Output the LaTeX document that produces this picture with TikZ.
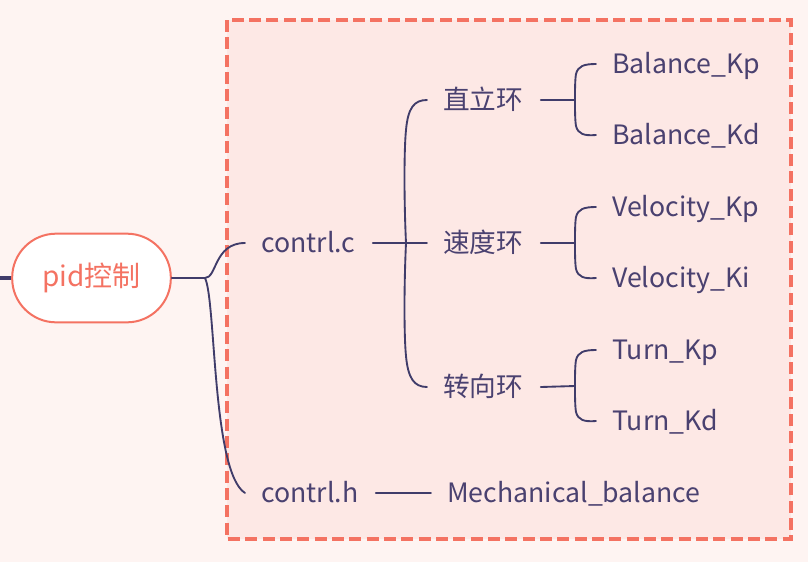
\documentclass[tikz,border=0pt]{standalone}
\usepackage{fontspec}
\setmainfont{Noto Sans CJK SC}
\definecolor{bgout}{HTML}{FEF4F2}
\definecolor{bgin}{HTML}{FDE8E5}
\definecolor{salmon}{HTML}{F47262}
\definecolor{navy}{HTML}{403C6A}
\definecolor{txt}{HTML}{4A4170}
\tikzset{
  conn/.style={draw=navy, line width=1.4pt, line cap=round},
  leaf/.style={anchor=west, inner sep=0pt, text height=18pt, text depth=3.8pt,
    text=txt, font=\fontsize{20}{24}\selectfont},
  rootbox/.style={rectangle, rounded corners=33pt, draw=salmon, line width=1.5pt, fill=white,
    minimum width=119pt, minimum height=66.5pt, text=salmon, font=\fontsize{21}{25}\selectfont},
  groupbox/.style={draw=salmon, line width=2.6pt, dash pattern=on 9pt off 4pt, fill=bgin}
}
\begin{document}
\begin{tikzpicture}[x=0.75pt,y=-0.75pt]
\fill[bgout] (0,0) rectangle (808,562);
\useasboundingbox (0,0) rectangle (808,562);
\draw[groupbox] (227,20) rectangle (791,539);

\node[rootbox] (root) at (91.5,278) {pid控制};
\coordinate (edge) at (0,278);
\draw[draw=navy, line width=2.4pt] (edge) -- (root.west);

\node[leaf] (cc) at (261,243) {contrl.c};
\node[leaf] (ch) at (261,493) {contrl.h};
\node[leaf] (zl) at (443,100) {直立环};
\node[leaf] (sd) at (443,243) {速度环};
\node[leaf] (zx) at (443,387) {转向环};
\node[leaf] (bkp) at (612,64) {Balance\_Kp};
\node[leaf] (bkd) at (612,135) {Balance\_Kd};
\node[leaf] (vkp) at (612,207) {Velocity\_Kp};
\node[leaf] (vki) at (612,278) {Velocity\_Ki};
\node[leaf] (tkp) at (612,350) {Turn\_Kp};
\node[leaf] (tkd) at (612,421) {Turn\_Kd};
\node[leaf] (mb) at (447,493) {Mechanical\_balance};

% root branches
\coordinate (b0) at (205,278);
\draw[conn] (root.east) -- (b0);
\draw[conn] (b0) .. controls (217,278) and (214,243) .. ([xshift=-12pt]cc.west);
\draw[conn] (b0) .. controls (216,300) and (212,472) .. ([xshift=-12pt]ch.west);

% contrl.c branches
\coordinate (j1) at (406,243);
\draw[conn] ([xshift=13pt]cc.east) -- (j1) -- ([xshift=-12pt]sd.west);
\draw[conn] (j1) .. controls (404,200) and (404,150) .. (406,130) .. controls (408,108) and (414,100) .. ([xshift=-12pt]zl.west);
\draw[conn] (j1) .. controls (404,286) and (404,336) .. (406,356) .. controls (408,378) and (414,387) .. ([xshift=-12pt]zx.west);

% contrl.h branch
\draw[conn] ([xshift=13pt]ch.east) -- ([xshift=-12pt]mb.west);

% second level brackets
\foreach \p/\a/\b/\y in {zl/bkp/bkd/100, sd/vkp/vki/243, zx/tkp/tkd/386}{
  \coordinate (k\p) at (575,\y);
  \draw[conn] ([xshift=13pt]\p.east) -- (k\p);
  \draw[conn] (k\p) .. controls (575,\y-10) and (575,\y-20) .. (576,\y-26) .. controls (578,\y-34) and (584,\y-36) .. ([xshift=-12pt]\a.west);
  \draw[conn] (k\p) .. controls (575,\y+10) and (575,\y+20) .. (576,\y+26) .. controls (578,\y+34) and (584,\y+36) .. ([xshift=-12pt]\b.west);
}
\end{tikzpicture}
\end{document}
